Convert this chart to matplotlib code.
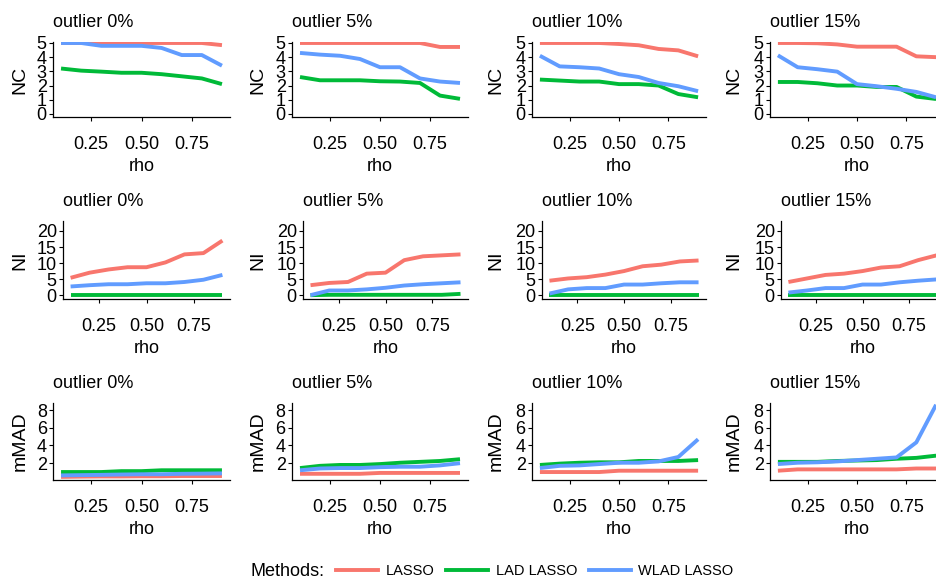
import numpy as np
import matplotlib.pyplot as plt
from matplotlib.lines import Line2D

plt.rcParams["font.family"] = ["Liberation Sans", "DejaVu Sans"]

# 数据
rho = [0.1, 0.2, 0.3, 0.4, 0.5, 0.6, 0.7, 0.8, 0.9]
outliers = ["outlier 0%", "outlier 5%", "outlier 10%", "outlier 15%"]
methods = ["LASSO", "LAD LASSO", "WLAD LASSO"]
colors = ["#F8766D", "#00BA38", "#619CFF"]

# NC: 每个 outlier 比例一行
nc_lasso = [
    [5, 5, 5, 5, 5, 5, 5, 5, 4.85],
    [5, 5, 5, 5, 5, 5, 5, 4.72, 4.72],
    [5, 5, 5, 5, 4.93, 4.84, 4.58, 4.48, 4.06],
    [5, 5, 4.98, 4.9, 4.74, 4.74, 4.74, 4.06, 4.0],
]
nc_lad = [
    [3.2, 3.05, 2.98, 2.9, 2.9, 2.8, 2.65, 2.5, 2.1],
    [2.6, 2.37, 2.37, 2.37, 2.3, 2.28, 2.18, 1.29, 1.06],
    [2.42, 2.35, 2.28, 2.28, 2.1, 2.1, 2.0, 1.4, 1.17],
    [2.25, 2.25, 2.16, 2.0, 2.0, 1.9, 1.9, 1.22, 1.05],
]
nc_wlad = [
    [5, 5, 4.8, 4.8, 4.8, 4.65, 4.15, 4.15, 3.4],
    [4.3, 4.18, 4.1, 3.87, 3.29, 3.29, 2.5, 2.28, 2.18],
    [4.1, 3.35, 3.29, 3.2, 2.8, 2.6, 2.18, 1.95, 1.6],
    [4.13, 3.29, 3.15, 2.98, 2.1, 1.95, 1.77, 1.55, 1.17],
]

# NI
ni_lasso = [
    [5.4, 7.0, 8.0, 8.7, 8.7, 10.2, 12.7, 13.1, 17.0],
    [3.1, 3.8, 4.1, 6.7, 7.0, 10.9, 12.1, 12.4, 12.7],
    [4.5, 5.2, 5.6, 6.4, 7.5, 9.0, 9.5, 10.5, 10.8],
    [4.1, 5.2, 6.3, 6.7, 7.5, 8.6, 9.0, 10.9, 12.4],
]
ni_lad = [
    [0, 0, 0, 0, 0, 0, 0, 0, 0],
    [0, 0.1, 0.1, 0.1, 0.1, 0.1, 0.1, 0.1, 0.4],
    [0, 0, 0, 0, 0, 0, 0, 0, 0],
    [0, 0, 0, 0, 0, 0, 0, 0, 0],
]
ni_wlad = [
    [2.7, 3.1, 3.4, 3.4, 3.7, 3.7, 4.1, 4.8, 6.3],
    [0, 1.45, 1.45, 1.8, 2.3, 3.0, 3.4, 3.7, 4.0],
    [0.5, 1.8, 2.2, 2.2, 3.3, 3.3, 3.7, 4.0, 4.0],
    [0.8, 1.45, 2.2, 2.2, 3.3, 3.3, 4.0, 4.5, 4.9],
]

# mMAD
mmad_lasso = [
    [0.45, 0.48, 0.5, 0.5, 0.52, 0.52, 0.55, 0.55, 0.55],
    [0.8, 0.8, 0.8, 0.8, 0.9, 0.9, 0.9, 0.9, 0.9],
    [1.0, 1.0, 1.0, 1.0, 1.15, 1.15, 1.15, 1.15, 1.15],
    [1.15, 1.3, 1.3, 1.3, 1.3, 1.3, 1.3, 1.4, 1.4],
]
mmad_lad = [
    [1.0, 1.0, 1.0, 1.1, 1.1, 1.2, 1.2, 1.2, 1.2],
    [1.45, 1.7, 1.8, 1.8, 1.9, 2.05, 2.15, 2.25, 2.45],
    [1.8, 1.95, 2.05, 2.1, 2.1, 2.25, 2.25, 2.25, 2.35],
    [2.15, 2.15, 2.15, 2.25, 2.3, 2.35, 2.5, 2.6, 2.85],
]
mmad_wlad = [
    [0.62, 0.65, 0.68, 0.72, 0.75, 0.75, 0.8, 0.82, 0.85],
    [1.2, 1.4, 1.45, 1.45, 1.55, 1.6, 1.6, 1.75, 2.0],
    [1.45, 1.7, 1.75, 1.9, 2.05, 2.05, 2.2, 2.7, 4.7],
    [1.9, 2.05, 2.1, 2.2, 2.35, 2.5, 2.65, 4.35, 8.6],
]

rows = [
    ("NC", [nc_lasso, nc_lad, nc_wlad], (-0.22, 5.07), [0, 1, 2, 3, 4, 5]),
    ("NI", [ni_lasso, ni_lad, ni_wlad], (-1.2, 23.1), [0, 5, 10, 15, 20]),
    ("mMAD", [mmad_lasso, mmad_lad, mmad_wlad], (0.1, 8.8), [2, 4, 6, 8]),
]

# 布局 (像素)
W, H = 936, 581
row_top = [42, 221, 403]
row_bottom = [117, 299, 480]
row_left = [[53, 292, 532, 770], [63, 303, 542, 781], [53, 292, 532, 770]]
col_right = [230, 468, 706, 944]
cell_left = [0, 238, 476, 714]

fig = plt.figure(figsize=(W / 100, H / 100), dpi=100)

for r, (ylab, series, ylim, yticks) in enumerate(rows):
    for c in range(4):
        left, right = row_left[r][c], col_right[c]
        top, bottom = row_top[r], row_bottom[r]
        ax = fig.add_axes([left / W, 1 - bottom / H, (right - left) / W, (bottom - top) / H])
        for k in range(3):
            ax.plot(rho, series[k][c], color=colors[k], lw=2.8, solid_capstyle="butt")
        ax.set_xlim(0.06, 0.94)
        ax.set_ylim(*ylim)
        ax.set_xticks([0.25, 0.5, 0.75])
        ax.set_xticklabels(["0.25", "0.50", "0.75"])
        ax.set_yticks(yticks)
        ax.tick_params(labelsize=13, length=3, width=0.8, color="black", pad=1.5)
        ax.tick_params(axis="x", pad=10.5)
        for s in ["top", "right"]:
            ax.spines[s].set_visible(False)
        for s in ["left", "bottom"]:
            ax.spines[s].set_linewidth(0.9)
        ax.set_title(outliers[c], loc="left", fontsize=13, pad=10.5)
        ax.set_xlabel("rho", fontsize=13, labelpad=4)
        ax.set_ylabel(ylab, fontsize=14, va="center")
        lx = (cell_left[c] + 20 - left) / (right - left)
        ax.yaxis.set_label_coords(lx, 0.5)

# 图例
handles = [Line2D([], [], color=colors[k], lw=2.8) for k in range(3)]
fig.text(250 / W, 1 - 571 / H, "Methods:", fontsize=13, va="center", ha="left")
fig.legend(handles, methods, ncol=3, loc="center left", bbox_to_anchor=(336 / W, 1 - 571 / H),
           frameon=False, fontsize=10.5, handlelength=2.9, handletextpad=0.5, columnspacing=0.8,
           borderaxespad=0, borderpad=0)

fig.savefig("out.png", dpi=100)
